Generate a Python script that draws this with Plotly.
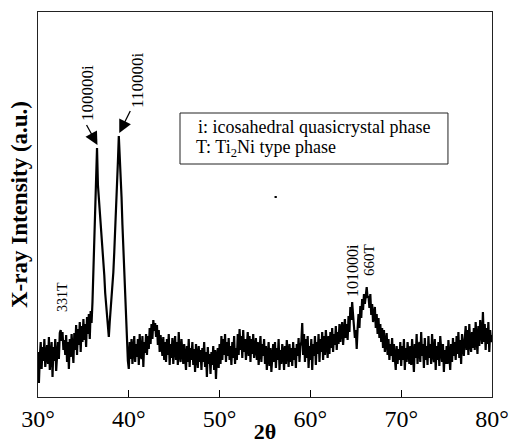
import plotly.graph_objects as go

# 2-theta start / step (degrees)
two_theta_start = 30.0
two_theta_step = 0.1

# Intensity (arbitrary units), rows are one degree each (x.0 ... x.9)
intensity = [
    45, 14, 40, 55, 28, 50, 36, 58, 30, 48,   # 30
    52, 33, 60, 27, 46, 55, 20, 50, 36, 58,   # 31
    26, 48, 55, 38, 64, 67, 56, 65, 47, 57,   # 32
    42, 62, 35, 55, 28, 58, 40, 63, 45, 34,   # 33
    64, 47, 72, 42, 68, 52, 75, 45, 71, 55,   # 34
    78, 57, 73, 50, 80, 63, 83, 58, 86, 74,   # 35
    95, 125, 160, 195, 225, 249, 212, 200, 185, 175,   # 36
    164, 150, 138, 122, 104, 92, 80, 70, 60, 75,       # 37
    87, 95, 110, 125, 145, 164, 185, 210, 235, 261,    # 38
    245, 225, 200, 172, 147, 120, 95, 70, 50, 36,      # 39
    28, 55, 38, 58, 33, 50, 61, 35, 53, 40,   # 40
    58, 32, 63, 43, 38, 61, 30, 55, 44, 63,   # 41
    42, 61, 48, 69, 53, 73, 58, 77, 66, 74,   # 42
    60, 72, 52, 67, 45, 62, 50, 41, 60, 37,   # 43
    55, 35, 58, 42, 63, 32, 53, 39, 59, 33,   # 44
    50, 61, 37, 55, 32, 65, 42, 35, 58, 39,   # 45
    33, 53, 41, 27, 51, 35, 58, 30, 49, 37,   # 46
    55, 32, 48, 25, 53, 37, 29, 51, 35, 47,   # 47
    27, 49, 35, 55, 30, 45, 20, 50, 33, 43,   # 48
    23, 45, 32, 51, 27, 47, 18, 41, 49, 29,   # 49
    53, 33, 61, 37, 58, 42, 63, 35, 55, 41,   # 50
    59, 37, 51, 32, 55, 39, 61, 33, 49, 37,   # 51
    63, 42, 68, 47, 61, 39, 67, 45, 58, 37,   # 52
    55, 65, 41, 61, 35, 58, 43, 63, 39, 53,   # 53
    59, 37, 55, 32, 51, 61, 35, 53, 41, 58,   # 54
    33, 51, 27, 48, 55, 31, 49, 25, 45, 53,   # 55
    35, 55, 29, 49, 37, 58, 27, 47, 33, 53,   # 56
    45, 27, 51, 33, 57, 37, 30, 53, 35, 49,   # 57
    31, 55, 37, 49, 29, 53, 41, 59, 35, 51,   # 58
    55, 74, 42, 63, 35, 58, 39, 61, 29, 51,   # 59
    37, 58, 27, 53, 41, 61, 32, 55, 43, 63,   # 60
    35, 58, 45, 65, 37, 61, 42, 67, 47, 39,   # 61
    61, 43, 65, 49, 69, 45, 63, 52, 71, 47,   # 62
    65, 53, 73, 55, 67, 75, 52, 71, 78, 59,   # 63
    73, 57, 81, 65, 90, 77, 95, 82, 69, 59,   # 64
    67, 48, 69, 83, 69, 91, 79, 98, 87, 103,  # 65
    93, 107, 110, 99, 101, 89, 103, 82, 93, 75,   # 66
    85, 90, 69, 83, 63, 79, 59, 73, 55, 69,   # 67
    49, 67, 45, 61, 64, 42, 58, 37, 53, 41,   # 68
    59, 35, 53, 39, 27, 51, 33, 48, 37, 55,   # 69
    31, 51, 37, 58, 27, 49, 35, 55, 39, 33,   # 70
    51, 32, 58, 37, 25, 53, 39, 63, 33, 49,   # 71
    55, 35, 65, 41, 53, 29, 59, 37, 51, 32,   # 72
    61, 39, 53, 33, 63, 42, 35, 58, 27, 51,   # 73
    37, 55, 31, 61, 42, 35, 53, 25, 47, 33,   # 74
    51, 33, 57, 39, 27, 53, 35, 59, 41, 55,   # 75
    37, 61, 43, 65, 39, 57, 33, 63, 45, 41,   # 76
    58, 71, 47, 67, 42, 73, 53, 45, 65, 49,   # 77
    69, 47, 75, 55, 43, 71, 51, 77, 57, 53,   # 78
    85, 55, 73, 47, 69, 53, 75, 45, 67, 55,   # 79
    62,                                       # 80
]

two_theta = [round(two_theta_start + i * two_theta_step, 2) for i in range(len(intensity))]

tick_vals = [30, 40, 50, 60, 70, 80]
tick_text = ["30°", "40°", "50°", "60°", "70°", "80°"]

# peak labels: (text, x, y)
peak_labels = [
    ("100000i", 35.4, 304),
    ("110000i", 40.9, 317),
    ("331T", 32.64, 100),
    ("101000i", 64.58, 127),
    ("660T", 66.45, 137),
]
peak_label_sizes = [17, 17, 14, 16, 15]

# arrows: (head x, head y, tail offset px)
arrow_heads = [(36.55, 252, -12, -22), (38.95, 264, 12, -24)]

legend_lines = ["i: icosahedral quasicrystal phase", "T: Ti<sub>2</sub>Ni type phase"]

SERIF = "Liberation Serif, Times New Roman, serif"

fig = go.Figure()
fig.add_trace(go.Scatter(
    x=two_theta, y=intensity, mode="lines",
    line=dict(color="black", width=2.2),
    showlegend=False, hoverinfo="skip",
))

annotations = []
for (txt, x, y), fs in zip(peak_labels, peak_label_sizes):
    annotations.append(dict(
        x=x, y=y, xref="x", yref="y", text=txt, showarrow=False,
        textangle=-90, font=dict(family=SERIF, size=fs, color="black"),
    ))
for hx, hy, ax, ay in arrow_heads:
    annotations.append(dict(
        x=hx, y=hy, xref="x", yref="y", text=" ", showarrow=True,
        ax=ax, ay=ay, arrowhead=2, arrowsize=2, arrowwidth=1.3,
        arrowcolor="black", font=dict(size=1),
    ))
annotations.append(dict(x=47.4, y=270, xref="x", yref="y", text=legend_lines[0],
                        showarrow=False, xanchor="left",
                        font=dict(family=SERIF, size=18, color="black")))
annotations.append(dict(x=47.2, y=249, xref="x", yref="y", text=legend_lines[1],
                        showarrow=False, xanchor="left",
                        font=dict(family=SERIF, size=18, color="black")))

shapes = [
    dict(type="rect", xref="x", yref="y", x0=45.64, x1=75.15, y0=233, y1=284,
         line=dict(color="#222", width=1), fillcolor="rgba(0,0,0,0)"),
    dict(type="line", xref="x", yref="y", x0=56.05, x1=56.3, y0=200, y1=200,
         line=dict(color="black", width=2)),
]

fig.update_layout(
    width=509, height=444,
    margin=dict(l=38, r=17, t=12, b=47),
    paper_bgcolor="white", plot_bgcolor="white",
    annotations=annotations, shapes=shapes,
    xaxis=dict(
        range=[30, 80], tickvals=tick_vals, ticktext=tick_text,
        ticks="inside", ticklen=7, tickcolor="black", tickwidth=1,
        showgrid=False, zeroline=False, automargin=False,
        showline=True, linecolor="#222", linewidth=1.2, mirror=True,
        tickfont=dict(family=SERIF, size=24, color="black"),
        title=dict(text="<b>2θ</b>", font=dict(family=SERIF, size=22, color="black"), standoff=0),
    ),
    yaxis=dict(
        range=[0, 385], showticklabels=False, ticks="",
        showgrid=False, zeroline=False, automargin=False,
        showline=True, linecolor="#222", linewidth=1.2, mirror=True,
        title=dict(text="<b>X-ray Intensity (a.u.)</b>",
                   font=dict(family=SERIF, size=23, color="black"), standoff=2),
    ),
)

fig.write_html("out.html", config={"displayModeBar": False},
               post_script="document.body.style.margin='0';")
